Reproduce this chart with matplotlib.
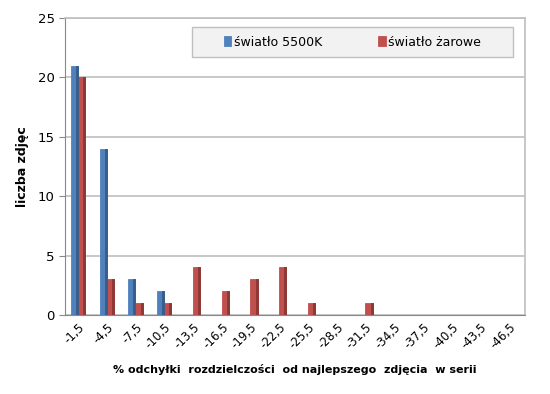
import matplotlib
matplotlib.use("Agg")
import matplotlib.pyplot as plt
from matplotlib.patches import Rectangle
import numpy as np

# dane
kategorie = ["-1,5", "-4,5", "-7,5", "-10,5", "-13,5", "-16,5", "-19,5", "-22,5",
             "-25,5", "-28,5", "-31,5", "-34,5", "-37,5", "-40,5", "-43,5", "-46,5"]
swiatlo_5500k = [21, 14, 3, 2, 0, 0, 0, 0, 0, 0, 0, 0, 0, 0, 0, 0]
swiatlo_zarowe = [20, 3, 1, 1, 4, 2, 3, 4, 1, 0, 1, 0, 0, 0, 0, 0]

plt.rcParams['font.family'] = ['DejaVu Sans']

fig = plt.figure(figsize=(5.5, 3.94), dpi=100)
ax = fig.add_axes([65/550, (394-315)/394, (525-65)/550, (315-18)/394])

x = np.arange(len(kategorie))
w = 0.25
side = 0.07

def draw(offset, vals, col, dark, label):
    ax.bar(x + offset, vals, w, color=col, edgecolor=col, linewidth=0.6, label=label, zorder=3)
    # ciemniejszy bok slupka (efekt 3D)
    ax.bar(x + offset + w/2 - side/2, vals, side, color=dark, edgecolor=dark, linewidth=0.6, zorder=4)

draw(-w/2, swiatlo_5500k, "#4F81BD", "#385D8A", "światło 5500K")
draw(w/2, swiatlo_zarowe, "#C0504D", "#8C3836", "światło żarowe")

ax.set_ylim(0, 25)
ax.set_xlim(-0.45, len(kategorie) - 0.45)
ax.set_yticks(range(0, 26, 5))
ax.yaxis.grid(True, color="#BFBFBF", linewidth=1.2, zorder=0)
ax.set_xticks(x)
ax.set_xticklabels(kategorie, rotation=45, ha="right", rotation_mode="anchor", fontsize=8.5)
ax.tick_params(axis="y", labelsize=9.5, direction="out", length=4, color="#888888")
ax.tick_params(axis="x", length=0, pad=4)

for s in ["top", "right"]:
    ax.spines[s].set_color("#BFBFBF")
    ax.spines[s].set_linewidth(1.2)
ax.spines["left"].set_color("#888888")
ax.spines["bottom"].set_color("#888888")

ax.set_ylabel("liczba zdjęc", fontsize=9, fontweight="bold", labelpad=6)
ax.set_xlabel("% odchyłki  rozdzielczości  od najlepszego  zdjęcia  w serii",
              fontsize=8, fontweight="bold", labelpad=9)

# ramka legendy (szeroka, jak w Excelu)
ax.add_patch(Rectangle((0.276, 0.869), 0.698, 0.101, transform=ax.transAxes,
                       facecolor="#F2F2F2", edgecolor="#BFBFBF", linewidth=1, zorder=5))
ax.legend(loc="center", bbox_to_anchor=(0.625, 0.919), ncol=2, fontsize=9,
          frameon=False, handlelength=0.6, handleheight=0.8,
          handletextpad=0.2, columnspacing=4.5).set_zorder(6)

fig.savefig("out.png", dpi=100)
